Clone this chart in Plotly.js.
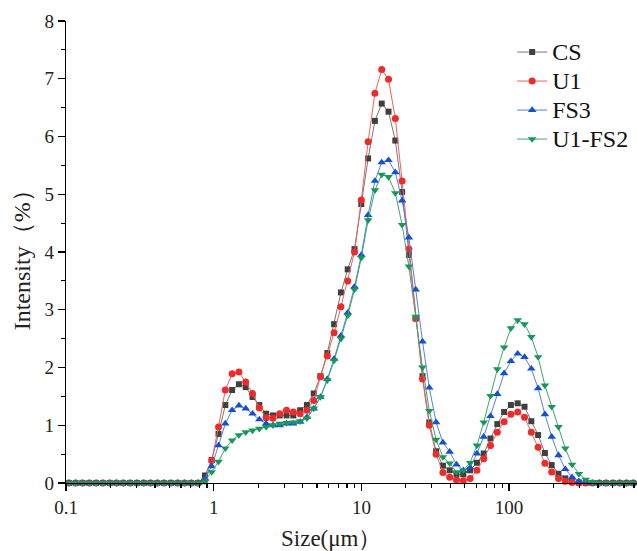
<!DOCTYPE html>
<html>
<head>
<meta charset="utf-8">
<script src="https://cdn.plot.ly/plotly-3.0.1.min.js"></script>
<style>html,body{margin:0;padding:0;background:#fff;}#chart{width:637px;height:551px;}</style>
</head>
<body>
<div id="chart"></div>
<script>
// Size grid (µm)
const sizeUm = [0.1046,0.1163,0.1293,0.1438,0.1599,0.1778,0.1977,0.2198,0.2444,0.2717,
0.3021,0.3359,0.3735,0.4152,0.4617,0.5133,0.5707,0.6346,0.7055,0.7844,
0.8722,0.9697,1.0781,1.1987,1.3328,1.4818,1.6475,1.8317,2.0366,2.2643,
2.5175,2.7991,3.1121,3.4601,3.8470,4.2772,4.7555,5.2873,5.8786,6.5359,
7.2668,8.0794,8.9829,9.9874,11.104,12.346,13.727,15.262,16.969,18.866,
20.976,23.322,25.930,28.829,32.053,35.637,39.622,44.053,48.979,54.456,
60.546,67.316,74.844,83.213,92.518,102.86,114.37,127.16,141.38,157.19,
174.77,194.31,216.04,240.20,267.06,296.92,330.12,367.04,408.08,453.71,
504.45,560.86,623.58,693.31,770.84];

const CS = [0,0,0,0,0,0,0,0,0,0,
0,0,0,0,0,0,0,0,0,0,
0.13,0.40,0.85,1.35,1.61,1.71,1.66,1.49,1.35,1.20,
1.17,1.17,1.17,1.17,1.26,1.35,1.55,1.85,2.25,2.75,
3.30,3.70,4.05,4.83,5.62,6.27,6.57,6.43,5.93,5.04,
3.95,2.85,1.85,1.05,0.55,0.30,0.22,0.15,0.15,0.22,
0.35,0.51,0.77,1.02,1.23,1.35,1.38,1.32,1.07,0.83,
0.52,0.31,0.16,0.08,0.03,0.01,0,0,0,0,
0,0,0,0,0];

const U1 = [0,0,0,0,0,0,0,0,0,0,
0,0,0,0,0,0,0,0,0,0,
0.05,0.39,0.97,1.61,1.89,1.92,1.75,1.55,1.30,1.13,
1.12,1.20,1.26,1.23,1.20,1.26,1.43,1.84,2.20,2.60,
3.05,3.50,4.00,4.90,5.91,6.75,7.16,6.99,6.31,5.23,
4.05,2.85,1.80,1.00,0.50,0.18,0.10,0.05,0.04,0.08,
0.22,0.42,0.65,0.88,1.06,1.19,1.23,1.14,0.88,0.62,
0.34,0.19,0.08,0.03,0.01,0,0,0,0,0,
0,0,0,0,0];

const FS3 = [0,0,0,0,0,0,0,0,0,0,
0,0,0,0,0,0,0,0,0,0,
0.07,0.29,0.65,1.03,1.26,1.34,1.29,1.20,1.10,1.03,
1.00,1.00,1.03,1.03,1.06,1.14,1.29,1.49,1.80,2.15,
2.55,2.95,3.40,3.95,4.64,5.23,5.55,5.59,5.38,4.89,
4.25,3.35,2.45,1.65,1.05,0.70,0.54,0.32,0.22,0.27,
0.51,0.80,1.16,1.54,1.90,2.11,2.24,2.18,1.98,1.64,
1.19,0.80,0.48,0.24,0.10,0.03,0.01,0,0,0,
0,0,0,0,0];

const U1FS2 = [0,0,0,0,0,0,0,0,0,0,
0,0,0,0,0,0,0,0,0,0,
0.03,0.19,0.37,0.60,0.74,0.83,0.88,0.91,0.94,0.97,
1.00,1.03,1.04,1.05,1.07,1.12,1.29,1.49,1.78,2.12,
2.50,2.90,3.35,3.90,4.55,5.07,5.34,5.30,5.02,4.47,
3.75,2.88,2.00,1.25,0.75,0.45,0.34,0.19,0.22,0.35,
0.65,1.05,1.51,1.97,2.35,2.68,2.82,2.75,2.53,2.18,
1.69,1.32,0.97,0.60,0.32,0.16,0.06,0.02,0,0,
0,0,0,0,0];

const seriesNames = ['CS','U1','FS3','U1-FS2'];
const xTickVals = [0.1,1,10,100];
const xTickText = ['0.1','1','10','100'];
const yTickVals = [0,1,2,3,4,5,6,7,8];
const xTitle = 'Size(μm）';
const yTitle = 'Intensity（%）';

const serif = 'Liberation Serif, Times New Roman, serif';

function tr(name, y, symbol, mcolor, lcolor, size){
  return {x: sizeUm, y: y, name: '<span style="font-size:24px">'+name+'</span>', type:'scatter', mode:'lines+markers',
    line:{color:lcolor, width:1},
    marker:{symbol:symbol, color:mcolor, size:size},
    cliponaxis:false};
}

const data = [
  tr(seriesNames[0], CS, 'square', '#404040', '#777777', 6),
  tr(seriesNames[1], U1, 'circle', '#ee2b2b', '#f06060', 7),
  tr(seriesNames[2], FS3, 'triangle-up', '#1550d0', '#5580dd', 7.5),
  tr(seriesNames[3], U1FS2, 'triangle-down', '#17985a', '#3fa570', 7.5)
];

const minorX = [];
[0.1,1,10,100].forEach(d=>{for(let i=2;i<=9;i++){const v=d*i; if(v<=740) minorX.push(+v.toPrecision(3));}});

const layout = {
  width:637, height:551,
  margin:{l:66, r:0, t:21, b:68},
  paper_bgcolor:'#fff', plot_bgcolor:'#fff',
  showlegend:true,
  legend:{x:0.995, y:0.975, xanchor:'right', yanchor:'top',
    font:{family:serif, size:20, color:'#111'},
    bgcolor:'rgba(0,0,0,0)', traceorder:'normal'},
  xaxis:{type:'log', range:[-1, 2.866], automargin:false,
    tickmode:'array', tickvals:xTickVals, ticktext:xTickText,
    ticks:'outside', ticklen:7, tickwidth:1.2, tickcolor:'#000',
    minor:{tickmode:'array', tickvals:minorX, ticks:'outside', ticklen:4, tickwidth:1.2, tickcolor:'#000', showgrid:false},
    showline:true, linecolor:'#000', linewidth:1.3,
    showgrid:false, zeroline:false,
    tickfont:{family:serif, size:19, color:'#222'}},
  yaxis:{range:[0,8], automargin:false,
    tickmode:'array', tickvals:yTickVals,
    ticks:'outside', ticklen:7, tickwidth:1.2, tickcolor:'#000',
    minor:{dtick:0.5, ticks:'outside', ticklen:4, tickwidth:1.2, tickcolor:'#000', showgrid:false},
    showline:true, linecolor:'#000', linewidth:1.3,
    showgrid:false, zeroline:false,
    tickfont:{family:serif, size:19, color:'#222'}},
  annotations:[
    {text:xTitle, xref:'paper', yref:'paper', x:0.464, y:0, xanchor:'center', yanchor:'top',
     yshift:-41, showarrow:false, font:{family:serif, size:23, color:'#222'}},
    {text:yTitle, xref:'paper', yref:'paper', x:0, y:0.495, xanchor:'center', yanchor:'middle',
     xshift:-44, textangle:-90, showarrow:false, font:{family:serif, size:24, color:'#222'}}
  ]
};

Plotly.newPlot('chart', data, layout, {staticPlot:true, displayModeBar:false});
</script>
</body>
</html>
